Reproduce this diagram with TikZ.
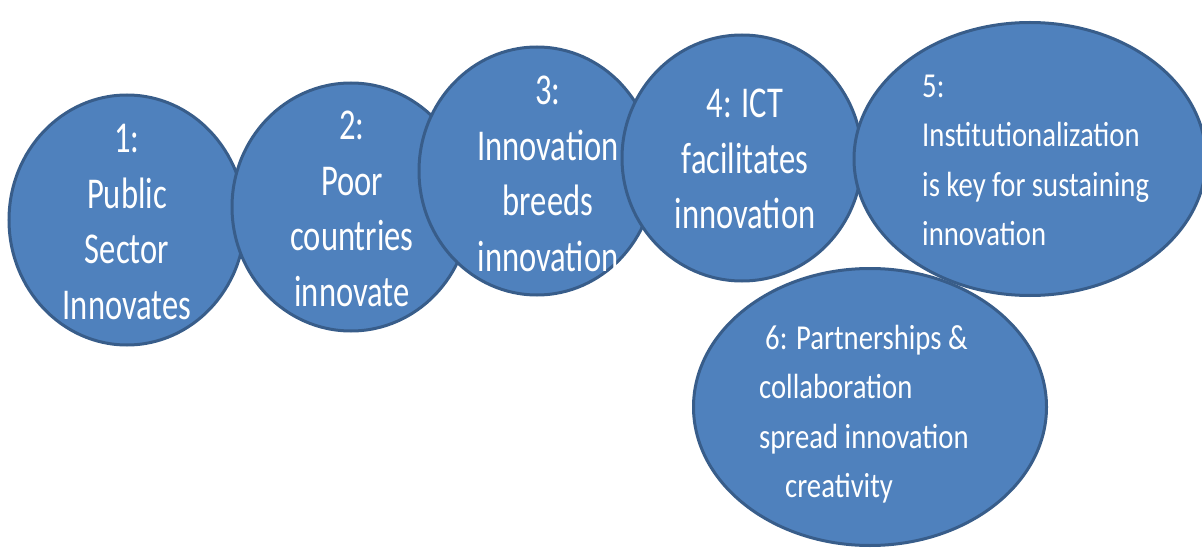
\documentclass[tikz,border=0pt]{standalone}
\usepackage{fontspec}
\setmainfont{Carlito}
\newfontfamily\fbig{Carlito}[FakeStretch=0.74]
\newfontfamily\fsmall{Carlito}[FakeStretch=0.82]
\usetikzlibrary{shapes.geometric}
\definecolor{bubblefill}{HTML}{4F81BD}
\definecolor{bubbleline}{HTML}{385D8A}
\begin{document}
\begin{tikzpicture}[x=1pt,y=-1pt,
  bubble/.style={ellipse, draw=bubbleline, fill=bubblefill, line width=3pt, inner sep=0pt},
  bigtext/.style={text=white, inner sep=0pt, anchor=north, align=center,
    font=\fbig\fontsize{44}{55.5}\selectfont},
  smalltext/.style={text=white, inner sep=0pt, anchor=north west, align=left,
    font=\fsmall\fontsize{35}{49.3}\selectfont}]
\useasboundingbox (0,0) rectangle (1202,548);
\node[bubble, minimum width=353pt, minimum height=277pt] (e6) at (870,407) {};
\node[bubble, minimum width=236pt, minimum height=250pt] (e1) at (127,220) {};
\node[bubble, minimum width=238pt, minimum height=248pt] (e2) at (351,207) {};
\node[bubble, minimum width=236pt, minimum height=248pt] (e3) at (537,171) {};
\node[bubble, minimum width=240pt, minimum height=246pt] (e4) at (742,158) {};
\node[bubble, minimum width=352pt, minimum height=273pt] (e5) at (1030,159) {};
\node[bigtext] (t1) at (127,124) {1:\\Public\\Sector\\Innovates};
\node[bigtext] (t2) at (352,111) {2:\\Poor\\countries\\innovate};
\node[bigtext] (t3) at (548,76) {3:\\Innovation\\breeds\\innovation};
\node[bigtext] (t4) at (745,89) {4: ICT\\facilitates\\innovation};
\node[smalltext] (t5) at (922,75) {5:\\Institutionalization\\is key for sustaining\\innovation};
\node[smalltext] (t6) at (759,325) {\hspace*{6pt}6: Partnerships \&\\collaboration\\spread innovation\\\hspace*{26pt}creativity};
\end{tikzpicture}
\end{document}
